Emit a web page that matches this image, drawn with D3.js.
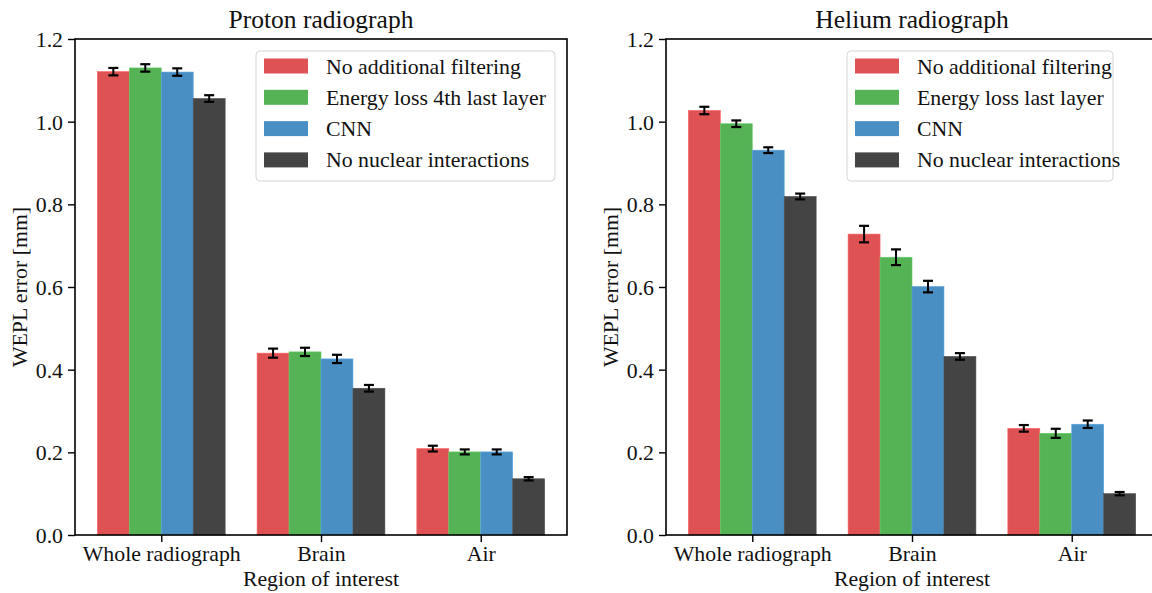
<!DOCTYPE html>
<html>
<head>
<meta charset="utf-8">
<script src="https://cdn.jsdelivr.net/npm/d3@7"></script>
<style>
  html, body { margin: 0; padding: 0; background: #fff; }
  svg { display: block; font-family: "Liberation Serif", "Times New Roman", serif; }
</style>
</head>
<body>
<svg id="chart" width="1152" height="593"></svg>
<script>
const categories = ["Whole radiograph", "Brain", "Air"];
const yTicks = [0, 0.2, 0.4, 0.6, 0.8, 1.0, 1.2];
const colors = ["#df5254", "#55b355", "#4a8fc4", "#444444"];

const protonSeries = ["No additional filtering", "Energy loss 4th last layer", "CNN", "No nuclear interactions"];
const protonValues = [
  [1.121, 0.440, 0.209],
  [1.130, 0.443, 0.201],
  [1.120, 0.426, 0.201],
  [1.056, 0.355, 0.136]
];
const protonErrors = [
  [0.009, 0.011, 0.007],
  [0.009, 0.010, 0.006],
  [0.009, 0.010, 0.006],
  [0.008, 0.008, 0.004]
];

const heliumSeries = ["No additional filtering", "Energy loss last layer", "CNN", "No nuclear interactions"];
const heliumValues = [
  [1.027, 0.728, 0.258],
  [0.995, 0.672, 0.246],
  [0.931, 0.601, 0.268],
  [0.819, 0.432, 0.100]
];
const heliumErrors = [
  [0.009, 0.020, 0.008],
  [0.008, 0.019, 0.011],
  [0.007, 0.014, 0.009],
  [0.007, 0.008, 0.004]
];

const svg = d3.select("#chart");
const plotTop = 39, plotBottom = 535;
const barW = 0.2;
const fontSz = "21.8px";

function drawPanel(left, right, title, series, values, errors, legW) {
  const g = svg.append("g");
  const x = d3.scaleLinear().domain([-0.54, 2.54]).range([left, right]);
  const y = d3.scaleLinear().domain([0, 1.2]).range([plotBottom, plotTop]);

  // bars
  series.forEach((s, i) => {
    const off = -0.3 + i * barW;
    g.selectAll(null)
      .data(values[i])
      .join("rect")
      .attr("x", (d, j) => x(j + off - barW / 2))
      .attr("width", x(barW) - x(0))
      .attr("y", d => y(d))
      .attr("height", d => y(0) - y(d))
      .attr("fill", colors[i])
      .attr("stroke", d3.color(colors[i]).brighter(0.4))
      .attr("stroke-width", 0.6);
  });

  // error bars
  series.forEach((s, i) => {
    const off = -0.3 + i * barW;
    const eb = g.selectAll(null)
      .data(values[i].map((v, j) => ({ v, e: errors[i][j], j })))
      .join("g");
    eb.append("line")
      .attr("x1", d => x(d.j + off)).attr("x2", d => x(d.j + off))
      .attr("y1", d => y(d.v - d.e)).attr("y2", d => y(d.v + d.e))
      .attr("stroke", "#000").attr("stroke-width", 2);
    [-1, 1].forEach(sg => {
      eb.append("line")
        .attr("x1", d => x(d.j + off) - 5).attr("x2", d => x(d.j + off) + 5)
        .attr("y1", d => y(d.v + sg * d.e)).attr("y2", d => y(d.v + sg * d.e))
        .attr("stroke", "#000").attr("stroke-width", 2.2);
    });
  });

  // frame
  g.append("rect")
    .attr("x", left).attr("y", plotTop)
    .attr("width", right - left).attr("height", plotBottom - plotTop)
    .attr("fill", "none").attr("stroke", "#000").attr("stroke-width", 1.6);

  // axes
  const yAxis = g.append("g")
    .attr("transform", `translate(${left},0)`)
    .call(d3.axisLeft(y).tickValues(yTicks).tickFormat(d3.format(".1f")).tickSize(7).tickPadding(5));
  const xAxis = g.append("g")
    .attr("transform", `translate(0,${plotBottom})`)
    .call(d3.axisBottom(x).tickValues([0, 1, 2]).tickFormat(d => categories[d]).tickSize(7).tickPadding(4));
  [yAxis, xAxis].forEach(a => {
    a.select(".domain").remove();
    a.selectAll(".tick line").attr("stroke", "#000").attr("stroke-width", 1.4);
    a.selectAll(".tick text")
      .attr("fill", "#111")
      .style("font-family", "'Liberation Serif', serif")
      .style("font-size", fontSz);
  });
  yAxis.selectAll(".tick text").attr("dy", "0.34em");

  // title and labels
  g.append("text")
    .attr("x", (left + right) / 2)
    .attr("y", 28)
    .attr("text-anchor", "middle")
    .style("font-size", "25.5px").attr("fill", "#111")
    .text(title);
  g.append("text")
    .attr("x", x(1)).attr("y", 586)
    .attr("text-anchor", "middle")
    .style("font-size", fontSz).attr("fill", "#111")
    .text("Region of interest");
  g.append("text")
    .attr("transform", `translate(${left - 48},${(plotTop + plotBottom) / 2}) rotate(-90)`)
    .attr("text-anchor", "middle")
    .style("font-size", fontSz).attr("fill", "#111")
    .text("WEPL error [mm]");

  // legend
  const lx = right - 311;
  const leg = g.append("g").attr("transform", `translate(${lx},51)`);
  leg.append("rect")
    .attr("x", 0).attr("y", 0).attr("width", legW).attr("height", 130)
    .attr("rx", 4).attr("fill", "#fff").attr("fill-opacity", 0.8)
    .attr("stroke", "#d6d6d6").attr("stroke-width", 1);
  const rows = leg.selectAll(null).data(series).join("g")
    .attr("transform", (d, i) => `translate(8,${15 + i * 31.3})`);
  rows.append("rect")
    .attr("x", 0).attr("y", -7.5).attr("width", 44).attr("height", 15)
    .attr("fill", (d, i) => colors[i]);
  rows.append("text")
    .attr("x", 62).attr("y", 7.5)
    .style("font-size", fontSz).attr("fill", "#111")
    .text(d => d);
}

drawPanel(75, 567, "Proton radiograph", protonSeries, protonValues, protonErrors, 299);
drawPanel(666, 1158, "Helium radiograph", heliumSeries, heliumValues, heliumErrors, 266);
</script>
</body>
</html>
